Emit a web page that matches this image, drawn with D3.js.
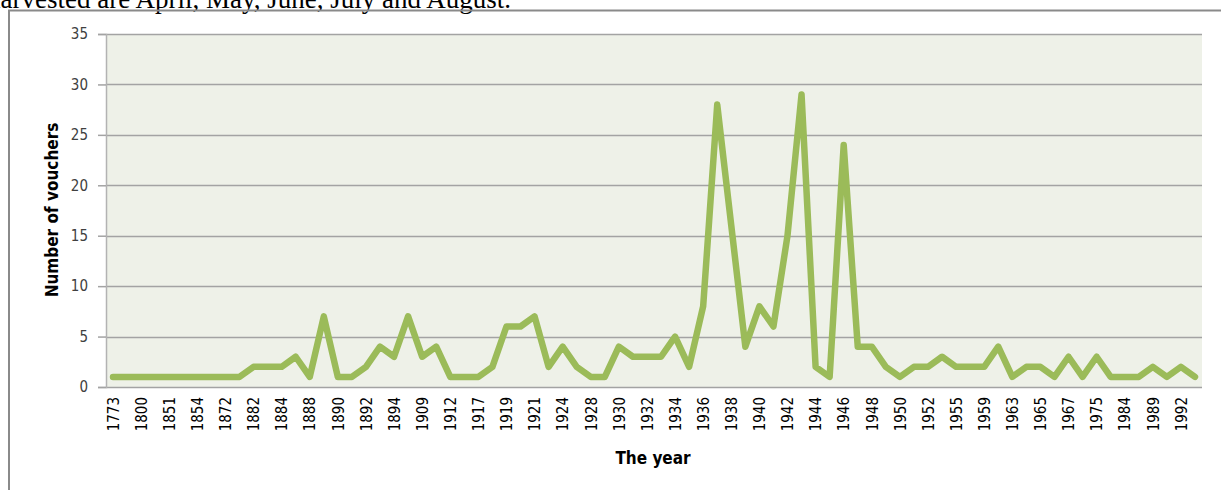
<!DOCTYPE html>
<html>
<head>
<meta charset="utf-8">
<script src="https://d3js.org/d3.v7.min.js"></script>
<style>
  body { margin: 0; background: #fff; overflow: hidden; }
</style>
</head>
<body>
<div id="my_dataviz"></div>
<script>

// categories (years); only every second one is labelled in the picture
var years = ["1773","1790","1800","1830","1851","1852","1854","1860","1872","1880",
  "1882","1883","1884","1886","1888","1889","1890","1891","1892","1893",
  "1894","1900","1909","1910","1912","1915","1917","1918","1919","1920",
  "1921","1922","1924","1926","1928","1929","1930","1931","1932","1933",
  "1934","1935","1936","1937","1938","1939","1940","1941","1942","1943",
  "1944","1945","1946","1947","1948","1949","1950","1951","1952","1953",
  "1955","1957","1959","1960","1963","1964","1965","1966","1967","1970",
  "1975","1980","1984","1986","1989","1990","1992","1995"];

// number of vouchers per year
var vouchers = [1,1,1,1,1,1,1,1,1,1,
  2,2,2,3,1,7,1,1,2,4,
  3,7,3,4,1,1,1,2,6,6,
  7,2,4,2,1,1,4,3,3,3,
  5,2,8,28,16,4,8,6,15,29,
  2,1,24,4,4,2,1,2,2,3,
  2,2,2,4,1,2,2,1,3,1,
  3,1,1,1,2,1,2,1];

var yTicks = [0,5,10,15,20,25,30,35];

var W = 1221, H = 490;
var margin = {top: 34, right: 19, bottom: 103, left: 106},
    width = W - margin.left - margin.right,
    height = H - margin.top - margin.bottom;

var svgRoot = d3.select("#my_dataviz")
  .append("svg")
    .attr("width", W)
    .attr("height", H);

// text of the document above the chart (cut by the page edge, as in the source)
svgRoot.append("text")
  .attr("x", -13)
  .attr("y", 8)
  .style("font-family", "'Liberation Serif', 'Times New Roman', serif")
  .style("font-size", "27px")
  .attr("fill", "#000")
  .text("harvested are April, May, June, July and August.");

// chart frame
svgRoot.append("path")
  .attr("d", "M9," + (H + 5) + "V10.5H" + (W + 5))
  .attr("fill", "none")
  .attr("stroke", "#8a8a8a")
  .attr("stroke-width", 2);

var svg = svgRoot.append("g")
  .attr("transform", "translate(" + margin.left + "," + margin.top + ")");

var x = d3.scalePoint()
  .domain(years)
  .range([0, width])
  .padding(0.5);

var y = d3.scaleLinear()
  .domain([0, 35])
  .range([height, 0]);

// plot background
svg.append("rect")
  .attr("width", width)
  .attr("height", height)
  .attr("fill", "#eef1e8");

// gridlines
svg.append("g")
  .selectAll("line")
  .data(yTicks)
  .enter()
  .append("line")
    .attr("x1", 0)
    .attr("x2", width)
    .attr("y1", function(d) { return Math.round(y(d)) + 0.5; })
    .attr("y2", function(d) { return Math.round(y(d)) + 0.5; })
    .attr("stroke", "#a3a3a3")
    .attr("stroke-width", 1.5);

// Y axis
var yAxis = svg.append("g")
  .call(d3.axisLeft(y).tickValues(yTicks).tickSize(8).tickPadding(10));
yAxis.select(".domain").attr("stroke", "#b3b3b3").attr("stroke-width", 1.5);
yAxis.selectAll(".tick line").attr("stroke", "#a3a3a3").attr("stroke-width", 1.5);
yAxis.selectAll(".tick text")
  .style("font-family", "'DejaVu Sans Condensed', 'DejaVu Sans', sans-serif")
  .style("font-size", "15px")
  .attr("fill", "#404040");

// X axis
var xAxis = svg.append("g")
  .attr("transform", "translate(0," + height + ")")
  .call(d3.axisBottom(x)
    .tickValues(years.filter(function(d, i) { return i % 2 === 0; }))
    .tickSize(0));
xAxis.select(".domain").remove();
xAxis.selectAll(".tick text")
  .attr("transform", "rotate(-90)")
  .attr("x", -10)
  .attr("y", 0)
  .attr("dy", "0.35em")
  .style("text-anchor", "end")
  .style("font-family", "'DejaVu Sans Condensed', 'DejaVu Sans', sans-serif")
  .style("font-size", "15px")
  .attr("fill", "#000");

// line
var line = d3.line()
  .x(function(d, i) { return x(years[i]); })
  .y(function(d) { return y(d); });

svg.append("path")
  .datum(vouchers)
  .attr("d", line)
  .attr("fill", "none")
  .attr("stroke", "#9bbb59")
  .attr("stroke-width", 6.5)
  .attr("stroke-linejoin", "round")
  .attr("stroke-linecap", "round");

// axis titles
svgRoot.append("text")
  .attr("x", 653)
  .attr("y", 464)
  .style("text-anchor", "middle")
  .style("font-family", "'DejaVu Sans Condensed', 'DejaVu Sans', sans-serif")
  .style("font-weight", "bold")
  .style("font-size", "17px")
  .text("The year");

svgRoot.append("text")
  .attr("transform", "translate(58,210) rotate(-90)")
  .style("text-anchor", "middle")
  .style("font-family", "'DejaVu Sans Condensed', 'DejaVu Sans', sans-serif")
  .style("font-weight", "bold")
  .style("font-size", "17px")
  .text("Number of vouchers");

</script>
</body>
</html>
